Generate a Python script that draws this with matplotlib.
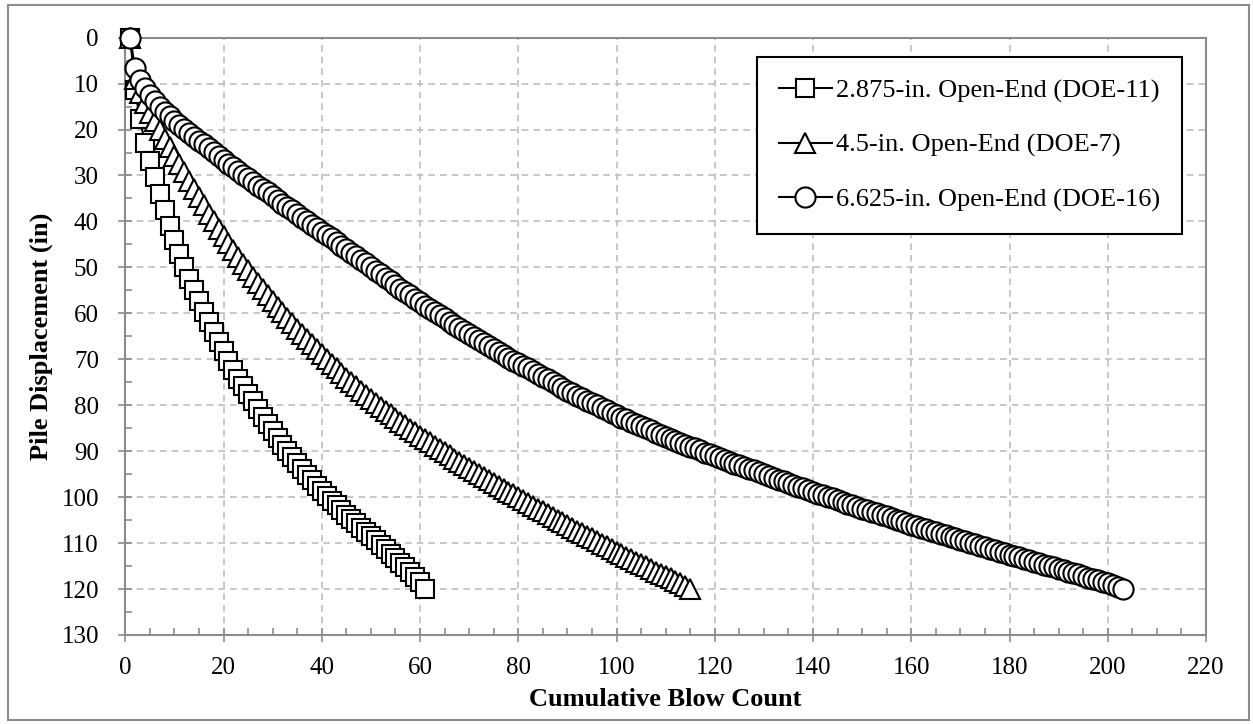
import numpy as np
import matplotlib.pyplot as plt
from matplotlib.patches import Rectangle
from matplotlib.ticker import MultipleLocator

# pile displacement (in) after each blow, blow count = 1, 2, 3, ...
disp_doe11 = [0.0, 11.5, 17.8, 23.0, 26.8, 30.4, 34.0, 37.5, 40.9, 44.0,
              47.0, 49.9, 52.5, 55.0, 57.4, 59.7, 61.9, 64.0, 66.2, 68.3,
              70.4, 72.4, 74.2, 75.9, 77.5, 79.0, 80.8, 82.5, 84.1, 85.7,
              87.2, 88.6, 90.0, 91.3, 92.6, 93.9, 95.1, 96.3, 97.5, 98.6,
              99.7, 100.8, 101.8, 102.8, 103.8, 104.8, 105.7, 106.7, 107.6, 108.5,
              109.4, 110.4, 111.3, 112.3, 113.3, 114.3, 115.3, 116.4, 117.4, 118.5,
              120.0]

disp_doe7 = [0.0, 9.0, 12.0, 14.3, 16.3, 18.2, 20.1, 22.0, 23.9, 25.7,
             27.5, 29.3, 31.1, 32.9, 34.7, 36.5, 38.3, 40.0, 41.6, 43.2,
             44.7, 46.2, 47.7, 49.2, 50.6, 52.0, 53.4, 54.7, 56.0, 57.3,
             58.6, 59.8, 61.0, 62.2, 63.4, 64.5, 65.6, 66.7, 67.8, 68.9,
             70.0, 71.0, 72.0, 73.0, 74.0, 75.0, 75.9, 76.8, 77.7, 78.6,
             79.5, 80.4, 81.2, 82.0, 82.8, 83.6, 84.4, 85.2, 85.9, 86.7,
             87.4, 88.1, 88.8, 89.5, 90.2, 90.9, 91.6, 92.3, 93.0, 93.7,
             94.3, 95.0, 95.6, 96.3, 96.9, 97.5, 98.2, 98.8, 99.4, 100.0,
             100.6, 101.2, 101.9, 102.5, 103.1, 103.7, 104.3, 104.9, 105.5, 106.1,
             106.7, 107.3, 107.9, 108.4, 109.0, 109.6, 110.2, 110.7, 111.3, 111.9,
             112.4, 113.0, 113.5, 114.1, 114.6, 115.1, 115.7, 116.2, 116.7, 117.2,
             117.7, 118.2, 118.7, 119.3, 120.0]

disp_doe16 = [0.0, 6.7, 9.2, 11.0, 12.5, 13.8, 15.0, 16.1, 17.1, 18.1,
              19.0, 19.9, 20.8, 21.6, 22.4, 23.2, 24.0, 24.9, 25.7, 26.6,
              27.4, 28.2, 29.0, 29.8, 30.6, 31.4, 32.2, 33.0, 33.7, 34.5,
              35.3, 36.1, 36.8, 37.6, 38.4, 39.2, 39.9, 40.7, 41.4, 42.2,
              43.0, 43.7, 44.5, 45.3, 46.1, 46.8, 47.6, 48.4, 49.1, 49.9,
              50.7, 51.5, 52.3, 53.0, 53.8, 54.6, 55.3, 56.1, 56.8, 57.6,
              58.3, 59.0, 59.7, 60.4, 61.1, 61.8, 62.5, 63.2, 63.9, 64.6,
              65.2, 65.9, 66.5, 67.2, 67.8, 68.4, 69.1, 69.7, 70.3, 70.9,
              71.4, 72.0, 72.6, 73.2, 73.8, 74.4, 75.0, 75.6, 76.2, 76.8,
              77.3, 77.9, 78.4, 79.0, 79.5, 80.0, 80.6, 81.1, 81.7, 82.2,
              82.7, 83.1, 83.6, 84.1, 84.6, 85.0, 85.5, 86.0, 86.4, 86.9,
              87.3, 87.7, 88.2, 88.6, 89.0, 89.4, 89.8, 90.3, 90.7, 91.1,
              91.5, 91.9, 92.3, 92.7, 93.1, 93.4, 93.8, 94.2, 94.6, 95.0,
              95.4, 95.8, 96.2, 96.6, 97.0, 97.3, 97.7, 98.1, 98.5, 98.9,
              99.3, 99.6, 100.0, 100.3, 100.7, 101.0, 101.4, 101.7, 102.1, 102.5,
              102.8, 103.2, 103.5, 103.9, 104.2, 104.6, 104.9, 105.3, 105.6, 106.0,
              106.3, 106.7, 107.0, 107.3, 107.6, 108.0, 108.3, 108.6, 108.9, 109.3,
              109.6, 109.9, 110.2, 110.6, 110.9, 111.2, 111.5, 111.9, 112.2, 112.5,
              112.8, 113.1, 113.4, 113.7, 114.1, 114.4, 114.7, 115.0, 115.3, 115.6,
              115.9, 116.2, 116.5, 116.8, 117.2, 117.5, 117.8, 118.1, 118.4, 118.7,
              119.1, 119.5, 120.0]

labels = ['2.875-in. Open-End (DOE-11)',
          '4.5-in. Open-End (DOE-7)',
          '6.625-in. Open-End (DOE-16)']

plt.rcParams['font.family'] = ['Liberation Serif', 'DejaVu Serif']

fig = plt.figure(figsize=(12.53, 7.24), dpi=100)
ax = fig.add_axes([0.1, 0.123, 0.8625, 0.825])

series = [(disp_doe11, 's', 13), (disp_doe7, '^', 14), (disp_doe16, 'o', 14.5)]
for (d, m, ms), lab in zip(series, labels):
    blows = np.arange(1, len(d) + 1)
    ax.plot(blows, d, color='black', lw=1.5, marker=m, ms=ms, mfc='white',
            mec='black', mew=1.5, label=lab, clip_on=False, zorder=3)

ax.set_xlim(0, 220)
ax.set_ylim(130, 0)
ax.xaxis.set_major_locator(MultipleLocator(20))
ax.xaxis.set_minor_locator(MultipleLocator(5))
ax.yaxis.set_major_locator(MultipleLocator(10))
ax.yaxis.set_minor_locator(MultipleLocator(5))
ax.grid(True, which='major', color='#bfbfbf', ls=(0, (4, 3)), lw=1.2)
ax.set_axisbelow(True)

for s in ax.spines.values():
    s.set_color('#8c8c8c')
    s.set_linewidth(1.5)
ax.tick_params(which='major', direction='inout', length=10, width=1.2,
               color='#8c8c8c', labelsize=18)
ax.tick_params(which='minor', direction='in', length=5, width=1.2, color='#8c8c8c')
ax.tick_params(axis='x', which='major', pad=11)
ax.tick_params(axis='y', which='major', pad=14)

ax.set_xlabel('Cumulative Blow Count', fontsize=19, fontweight='bold', labelpad=6)
ax.set_ylabel('Pile Displacement (in)', fontsize=19, fontweight='bold', labelpad=6)

leg = ax.legend(loc='upper right', bbox_to_anchor=(0.978, 0.968), fontsize=19,
                frameon=True, fancybox=False, edgecolor='black', framealpha=1,
                handlelength=2.0, handletextpad=0.15, labelspacing=1.15,
                borderpad=0.85, borderaxespad=0)
leg.get_frame().set_linewidth(1.5)

fig.patches.append(Rectangle((0.006, 0.005), 0.991, 0.988, transform=fig.transFigure,
                             fill=False, edgecolor='#8c8c8c', lw=1.5))

fig.savefig('out.png', dpi=100)
